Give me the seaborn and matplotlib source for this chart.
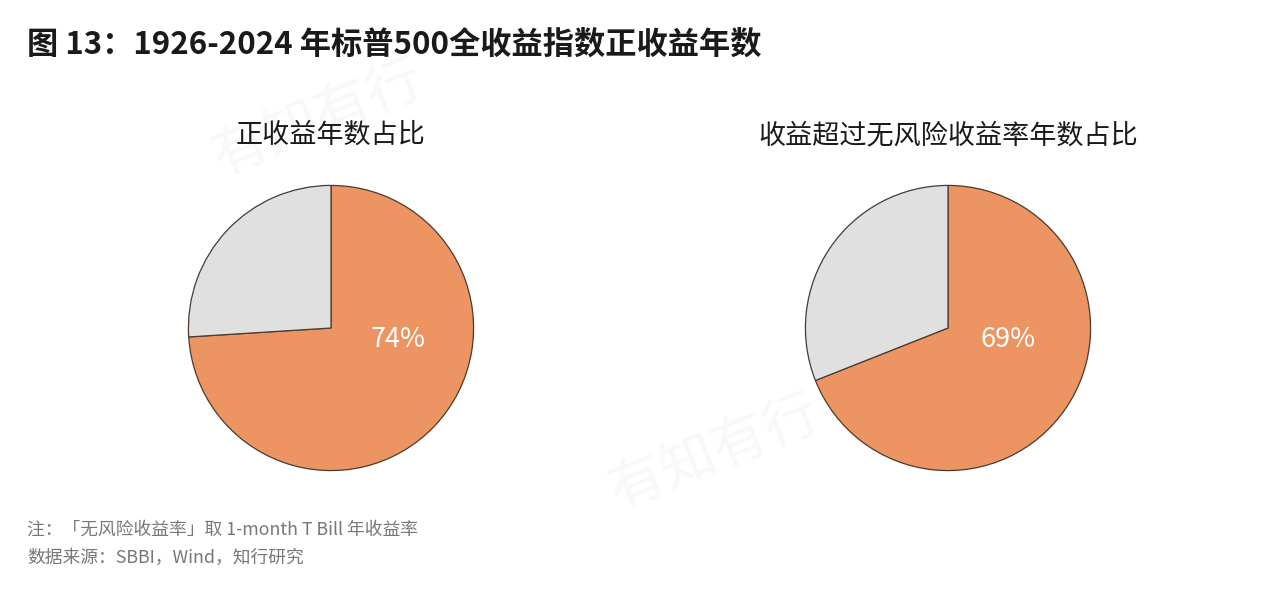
import matplotlib
matplotlib.use("Agg")
import matplotlib.pyplot as plt
import seaborn as sns

sns.set_theme(style="white")
plt.rcParams['font.family'] = ['Noto Sans CJK SC', 'DejaVu Sans']

# data
pie_titles = ["正收益年数占比", "收益超过无风险收益率年数占比"]
labels = ["是", "否"]
share_yes = [74, 69]
share_no = [26, 31]
pct_text = ["74%", "69%"]

title = "图 13：1926-2024 年标普500全收益指数正收益年数"
note = "注：「无风险收益率」取 1-month T Bill 年收益率"
source = "数据来源：SBBI，Wind，知行研究"

orange = "#EC9562"
grey = "#E0E0E0"
edge = "#4a3a30"

fig = plt.figure(figsize=(12.8, 5.96), dpi=100)
fig.patch.set_facecolor("white")

# faint watermarks
for wx, wy in [(0.16, 0.80), (0.47, 0.24)]:
    fig.text(wx, wy, "有知有行", fontsize=40, color="#f8f8f8", rotation=22,
             ha="left", va="center", zorder=-5)

fig.text(0.021, 0.925, title, fontsize=22.5, fontweight="bold", color="#1a1a1a",
         ha="left", va="center")

left_edges = [187 / 1280, 804 / 1280]
for i in range(2):
    ax = fig.add_axes([left_edges[i], 124 / 596, 288 / 1280, 288 / 596])
    ax.pie([share_yes[i], share_no[i]], colors=[orange, grey], startangle=90,
           counterclock=False, radius=1.0,
           wedgeprops=dict(edgecolor=edge, linewidth=0.9))
    ax.set_xlim(-1.01, 1.01)
    ax.set_ylim(-1.01, 1.01)
    ax.set_aspect("equal")
    ax.text(0.47 if i == 0 else 0.42, -0.08, pct_text[i], fontsize=19.5,
            color="white", ha="center", va="center")
    ax.text(0, 1.35, pie_titles[i], fontsize=19.5, color="#1a1a1a",
            ha="center", va="center")
    ax.axis("off")

fig.text(0.021, 1 - 530 / 596, note, fontsize=12.8, color="#777777",
         ha="left", va="center")
fig.text(0.021, 1 - 558 / 596, source, fontsize=12.8, color="#777777",
         ha="left", va="center")

fig.savefig("out.png", dpi=100, facecolor="white")
